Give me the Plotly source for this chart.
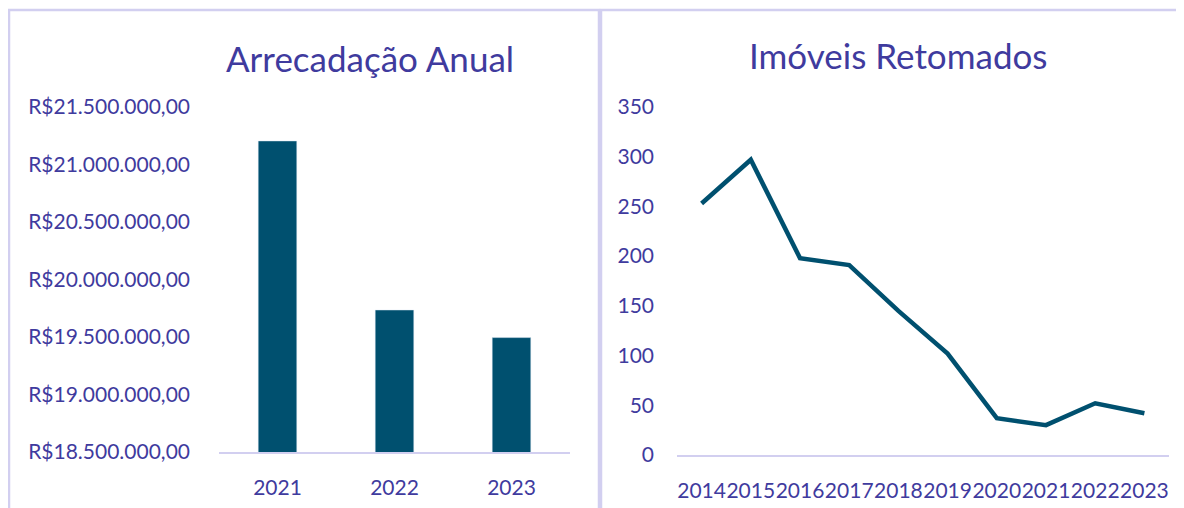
import plotly.graph_objects as go

# Data
bar_years = ["2021", "2022", "2023"]
bar_values = [21205000, 19735000, 19495000]

line_years = ["2014", "2015", "2016", "2017", "2018", "2019", "2020", "2021", "2022", "2023"]
line_values = [253, 297, 198, 191, 145, 102, 37, 30, 52, 42]

left_title = "Arrecadação Anual"
right_title = "Imóveis Retomados"

OFF = 8  # page body margin
W, H = 1184 - OFF, 508 - OFF
TEXT = "#3F3B9E"
MARK = "#00506F"
BORDER = "#D2CFF0"
FONT = "Lato"

def px(x):
    return (x - OFF) / W

def py(y):
    return 1 - (y - OFF) / H

fig = go.Figure()
fig.add_trace(go.Bar(x=bar_years, y=bar_values, marker_color=MARK, width=0.33,
                     xaxis="x", yaxis="y", showlegend=False))
fig.add_trace(go.Scatter(x=line_years, y=line_values, mode="lines",
                         line=dict(color=MARK, width=4.5),
                         xaxis="x2", yaxis="y2", showlegend=False))

tickfont = dict(family=FONT, size=21, color=TEXT)
fig.update_layout(
    width=W, height=H,
    margin=dict(l=0, r=0, t=0, b=0, autoexpand=False),
    paper_bgcolor="white", plot_bgcolor="white",
    font=dict(family=FONT, color=TEXT),
    xaxis=dict(domain=[px(219), px(570)], anchor="y", showgrid=False, showline=True,
               linecolor=BORDER, linewidth=2, ticks="", tickfont=tickfont,
               ticklabelstandoff=16, zeroline=False, automargin=False),
    yaxis=dict(domain=[py(452), py(107)], anchor="x", range=[18500000, 21500000],
               dtick=500000, tickformat=",.2f", tickprefix="R$", showgrid=False,
               showline=False, zeroline=False, tickfont=tickfont, ticks="",
               ticklabelstandoff=28, automargin=False),
    xaxis2=dict(domain=[px(677), px(1169)], anchor="y2", range=[-0.5, 9.5],
                showgrid=False, showline=True,
                linecolor=BORDER, linewidth=2, ticks="", tickfont=tickfont,
                ticklabelstandoff=16, zeroline=False, tickangle=0, automargin=False),
    yaxis2=dict(domain=[py(455), py(107)], anchor="x2", range=[0, 350], dtick=50,
                showgrid=False, showline=False, zeroline=False, tickfont=tickfont,
                ticks="", ticklabelstandoff=22, automargin=False),
    separators=",.",
    annotations=[
        dict(text=left_title, x=px(370), y=py(58), xref="paper", yref="paper",
             showarrow=False, xanchor="center", yanchor="middle",
             font=dict(family=FONT, size=35, color=TEXT)),
        dict(text=right_title, x=px(898), y=py(55), xref="paper", yref="paper",
             showarrow=False, xanchor="center", yanchor="middle",
             font=dict(family=FONT, size=35, color=TEXT)),
    ],
    shapes=[
        dict(type="rect", xref="paper", yref="paper", x0=px(9), x1=px(599), y0=-0.05, y1=py(10),
             line=dict(color=BORDER, width=2.5)),
        dict(type="rect", xref="paper", yref="paper", x0=px(601), x1=1.05, y0=-0.05, y1=py(10),
             line=dict(color=BORDER, width=2.5)),
    ],
)

fig.write_html("out.html")
